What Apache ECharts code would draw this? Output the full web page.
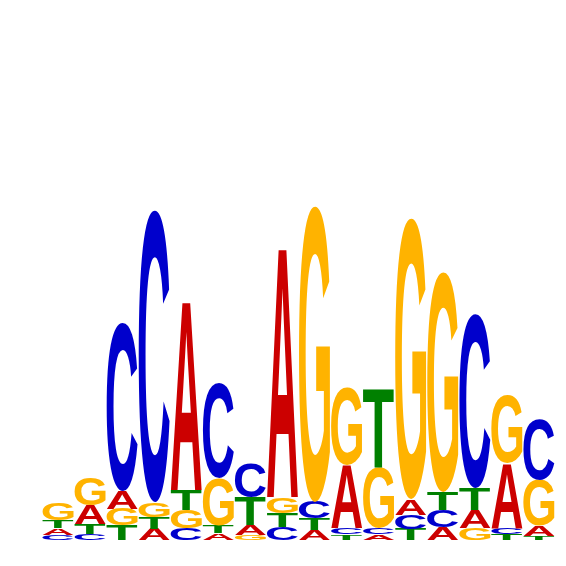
<!DOCTYPE html>
<html>
<head>
<meta charset="utf-8">
<script src="https://cdn.jsdelivr.net/npm/echarts@6/dist/echarts.min.js"></script>
<style>
html, body { margin: 0; padding: 0; background: #fff; }
#logo { width: 566px; height: 566px; }
</style>
</head>
<body>
<div id="logo"></div>
<script>
// positions of the motif
var positions = ['1', '2', '3', '4', '5', '6', '7', '8', '9', '10', '11', '12', '13', '14', '15', '16'];

// letter heights in bits
var heightA = [0.026, 0.076, 0.070, 0.044, 0.760, 0.028, 0.040, 1.004, 0.042, 0.252, 0.022, 0.062, 0.052, 0.072, 0.260, 0.040];
var heightC = [0.022, 0.024, 0.676, 1.168, 0.048, 0.380, 0.136, 0.052, 0.066, 0.026, 0.026, 0.058, 0.068, 0.696, 0.026, 0.240];
var heightG = [0.068, 0.112, 0.066, 0.060, 0.072, 0.188, 0.020, 0.064, 1.184, 0.312, 0.244, 1.124, 0.880, 0.048, 0.272, 0.184];
var heightT = [0.032, 0.040, 0.060, 0.048, 0.080, 0.030, 0.112, 0.056, 0.044, 0.022, 0.316, 0.044, 0.072, 0.088, 0.024, 0.016];

var bases = ['A', 'C', 'G', 'T'];
var heights = { A: heightA, C: heightC, G: heightG, T: heightT };
var colors = { A: '#cc0000', C: '#0000cc', G: '#ffb300', T: '#008000' };
var FONT = 'bold 100px "Liberation Sans"';

// ink box of each glyph, so a letter can be stretched to fill its slot
var ctx = document.createElement('canvas').getContext('2d');
ctx.font = FONT;
ctx.textAlign = 'center';
ctx.textBaseline = 'middle';
var metrics = {};
bases.forEach(function (b) {
    var mt = ctx.measureText(b);
    metrics[b] = {
        left: mt.actualBoundingBoxLeft,
        w: mt.actualBoundingBoxLeft + mt.actualBoundingBoxRight,
        ascent: mt.actualBoundingBoxAscent,
        h: mt.actualBoundingBoxAscent + mt.actualBoundingBoxDescent
    };
});

function renderItem(params, api) {
    var i = api.value(0);
    var center = api.coord([i, 0]);
    var w = api.size([1, 0])[0] * 0.97;
    var x0 = center[0] - w / 2;
    var stack = bases.map(function (b) {
        return { b: b, h: heights[b][i] };
    }).sort(function (p, q) { return p.h - q.h; });
    var children = [];
    var cum = 0;
    stack.forEach(function (l) {
        var yBottom = api.coord([i, cum])[1];
        cum += l.h;
        var yTop = api.coord([i, cum])[1];
        var m = metrics[l.b];
        var sx = w / m.w;
        var sy = (yBottom - yTop) / m.h;
        children.push({
            type: 'text',
            x: x0 + m.left * sx,
            y: yTop + m.ascent * sy,
            scaleX: sx,
            scaleY: sy,
            silent: true,
            style: {
                text: l.b,
                font: FONT,
                fill: colors[l.b],
                align: 'center',
                verticalAlign: 'middle'
            }
        });
    });
    return { type: 'group', children: children };
}

option = {
    animation: false,
    grid: {
        left: 42,
        right: 11,
        top: 40,
        bottom: 26
    },
    xAxis: {
        type: 'category',
        data: positions,
        show: false
    },
    yAxis: {
        type: 'value',
        min: 0,
        max: 2,
        show: false
    },
    series: [{
        type: 'custom',
        renderItem: renderItem,
        encode: { x: 0 },
        data: positions.map(function (p, i) { return [i]; })
    }]
};

var myChart = echarts.init(document.getElementById('logo'));
myChart.setOption(option);
</script>
</body>
</html>
